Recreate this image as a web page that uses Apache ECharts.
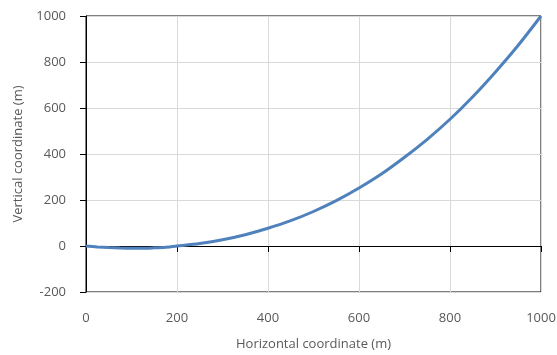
<!DOCTYPE html>
<html>
<head>
<meta charset="utf-8">
<script src="https://cdn.jsdelivr.net/npm/echarts@6/dist/echarts.min.js"></script>
<style>
  html, body { margin: 0; padding: 0; background: #fff; }
  #chart { width: 557px; height: 355px; }
</style>
</head>
<body>
<div id="chart"></div>
<script>
// Path profile: horizontal position (m) and elevation (m)
const horizontal = [0, 25, 50, 75, 100, 125, 150, 175, 200, 250, 300, 350, 400, 450, 500,
                    550, 600, 650, 700, 750, 800, 850, 900, 950, 1000];
const vertical = [0, -4, -7, -9, -10, -10, -8, -5, 0, 11, 27, 49, 77, 110, 150,
                  197, 252, 314, 386, 464, 551, 649, 757, 873, 1000];

const xTitle = 'Horizontal coordinate (m)';
const yTitle = 'Vertical coordinate (m)';

const points = horizontal.map((x, i) => [x, vertical[i]]);

const chart = echarts.init(document.getElementById('chart'), null, { renderer: 'canvas' });
const textFont = { fontFamily: 'Open Sans', fontSize: 13, color: '#595959' };
const plain = v => String(v);

chart.setOption({
  animation: false,
  grid: {
    left: 86, right: 16, top: 16, bottom: 63,
    outerBoundsMode: 'none',
    show: true, borderColor: '#000', borderWidth: 1, backgroundColor: 'transparent'
  },
  xAxis: {
    type: 'value', min: 0, max: 1000, interval: 200,
    name: xTitle, nameLocation: 'middle', nameGap: 46,
    nameTextStyle: Object.assign({}, textFont),
    axisLine: { show: true, lineStyle: { color: '#000', width: 1 } },
    axisTick: { show: true, length: 6, lineStyle: { color: '#000' } },
    axisLabel: Object.assign({ margin: 20, formatter: plain }, textFont),
    splitLine: { show: true, lineStyle: { color: '#d9d9d9', width: 1 } }
  },
  yAxis: {
    type: 'value', min: -200, max: 1000, interval: 200,
    name: yTitle, nameLocation: 'middle', nameGap: 61, nameRotate: 90,
    nameTextStyle: Object.assign({}, textFont),
    axisLine: { show: true, lineStyle: { color: '#000', width: 1 } },
    axisTick: { show: true, length: 6, lineStyle: { color: '#000' } },
    axisLabel: Object.assign({ margin: 20, formatter: plain }, textFont),
    splitLine: { show: true, lineStyle: { color: '#d9d9d9', width: 1 } }
  },
  series: [{
    type: 'line',
    data: points,
    smooth: 0.3,
    showSymbol: false,
    lineStyle: { color: '#4f81bd', width: 3 },
    itemStyle: { color: '#4f81bd' }
  }]
});
</script>
</body>
</html>
